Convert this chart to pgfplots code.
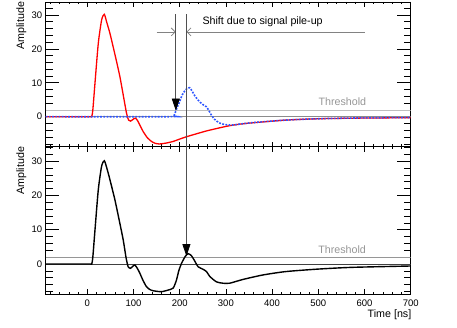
\documentclass[border=0pt]{standalone}
\usepackage{pgfplots}
\pgfplotsset{compat=1.18}
\usepackage{fontspec}
\setmainfont{Liberation Sans}
\usetikzlibrary{arrows.meta}
\definecolor{rootblue}{RGB}{45,85,255}
\definecolor{zerogray}{RGB}{140,140,140}
\definecolor{thrgray}{RGB}{190,190,190}
\definecolor{thrgray2}{RGB}{150,150,150}
\definecolor{labgray}{RGB}{150,150,150}
\definecolor{vgray}{RGB}{80,80,80}
\definecolor{hgray}{RGB}{130,130,130}

\tikzset{txt/.style={font=\fontsize{10.7}{13}\selectfont, inner sep=0pt}}
\pgfplotsset{
  rootframe/.style={
    scale only axis, width=365pt, xmin=-90, xmax=700,
    anchor=south west,
    axis line style={line width=0.8pt},
    tick style={black, line width=0.6pt},
    tick label style={font=\fontsize{9.5}{11}\selectfont},
    /pgf/number format/assume math mode=true,
  },
  % x ticks drawn by the data axis
  xpart/.style={xtick={0,100,...,700}, minor xtick={-80,-60,...,680},
    major tick length=5pt, minor tick length=2.5pt, ytick=\empty,
    xticklabel style={yshift=-2pt}},
  % y ticks (longer) drawn by an overlay axis
  ypart/.style={hide x axis, ytick={0,10,20,30}, minor ytick={-8,-6,...,34},
    major tick length=13.5pt, minor tick length=7pt},
}

\begin{document}
\begin{tikzpicture}
\useasboundingbox (0pt,0pt) rectangle (457pt,328pt);

% ---------------- top panel ----------------
\begin{axis}[rootframe, ypart, at={(45.7pt,181.3pt)}, height=144.7pt, ymin=-8.85, ymax=33.83]
\end{axis}
\begin{axis}[rootframe, xpart, xticklabels={}, at={(45.7pt,181.3pt)}, height=144.7pt, ymin=-8.85, ymax=33.83]
\addplot[thrgray, line width=0.8pt] coordinates {(-90,2) (700,2)};
\addplot[zerogray, line width=1.5pt] coordinates {(-90,0) (700,0)};
% first pulse
\addplot[red, line width=1.3pt, smooth, tension=0.4] coordinates {
(-90,0) (5,0) (9.5,0) (12,2) (16.6,9.8) (23.8,21.6) (31,28.5) (36.8,30.2)
(41.8,28) (49,24.6) (56,20.6) (63.5,16.2) (70.6,11.8) (77.8,6.4) (85,1)
(89.4,-1.0) (93.7,-1.3) (99,-0.8) (104,-0.4) (109,-1.2) (115,-2.8) (121,-4.4)
(130,-6.2) (139,-7.3) (147,-7.85) (156,-8.05) (170,-7.8) (186,-7.3) (200,-6.6)
(215,-5.9) (240,-4.9) (258,-4.2) (286,-3.3) (308,-2.65) (330,-2.2) (358,-1.8)
(430,-1.0) (502,-0.6) (600,-0.4) (700,-0.3)
};
% pile-up pulse
\addplot[rootblue, dash pattern=on 1.8pt off 1.4pt, line width=1.6pt, smooth, tension=0.4] coordinates {
(-90,0) (184,0) (187.5,0.2) (191.6,1.7) (196,3.2) (200,4.4) (205,6.3) (211,7.6)
(216,8.3) (221.8,8.55) (227,7.5) (232.6,6.2) (238,5.2) (243,4.4) (250,3.6)
(258,2.9) (264,1.6) (269,0.4) (275,-0.7) (280,-1.3) (287,-1.9) (294,-2.2)
(305,-2.45) (315,-2.45) (330,-2.2) (358,-1.75) (430,-1.0) (502,-0.6) (600,-0.35) (700,-0.25)
};
\node[txt, labgray, anchor=base east] at (axis cs:604,3.25) {Threshold};
\node[txt, anchor=base west] at (axis cs:249,27.2) {Shift due to signal pile-up};
\draw[hgray, line width=0.8pt, -{Straight Barb[length=4pt,width=8pt]}] (axis cs:150,25) -- (axis cs:191.6,25);
\draw[hgray, line width=0.8pt, -{Straight Barb[length=4pt,width=8pt]}] (axis cs:600,25) -- (axis cs:214.6,25);
\draw[vgray, line width=0.8pt, -{Triangle[length=12pt,width=8pt,color=black]}] (axis cs:191.6,30.2) -- (axis cs:191.6,1.8);
\coordinate (vtop) at (axis cs:214.6,30.2);
\end{axis}

% ---------------- bottom panel ----------------
\begin{axis}[rootframe, ypart, at={(45.7pt,33.7pt)}, height=147.6pt, ymin=-8.83, ymax=34.2]
\end{axis}
\begin{axis}[rootframe, xpart, at={(45.7pt,33.7pt)}, height=147.6pt, ymin=-8.83, ymax=34.2]
\addplot[thrgray2, line width=0.7pt] coordinates {(-90,2) (700,2)};
\addplot[black!75, line width=0.7pt] coordinates {(-90,0) (700,0)};
\addplot[black, line width=1.4pt, smooth, tension=0.4] coordinates {
(-90,0) (5,0) (9.5,0) (12,2) (16.6,9.8) (23.8,21.6) (31,28.5) (36.8,30.1)
(41.8,28.2) (49,24.6) (59.8,18.7) (70.6,11.8) (77.8,7) (84,1.8) (88.5,-0.8)
(93.7,-1.25) (98,-0.7) (103,-0.3) (108,-1.2) (113.8,-2.7) (120,-4.6) (128,-6.6)
(135,-7.4) (142.6,-7.8) (160,-8.07) (175,-7.6) (186,-7.0) (193,-4.7) (198,-2)
(204,0.2) (212,2.2) (218,3.0) (225,2.5) (232,1.0) (240,-0.8) (250,-1.5)
(258,-2.2) (265,-3.6) (279.5,-5.2) (293.8,-5.6) (308,-5.6) (337,-4.5)
(380,-3.2) (430,-2.2) (502,-1.46) (574,-0.97) (700,-0.58)
};
\node[txt, labgray, anchor=base east] at (axis cs:603.4,3.1) {Threshold};
\coordinate (vbot) at (axis cs:214.6,2.3);
\end{axis}

\draw[vgray, line width=0.8pt, -{Triangle[length=12pt,width=8pt,color=black]}] (vtop) -- (vbot);

% labels
\node[txt, rotate=90, anchor=base east] at (24.2pt,326.3pt) {Amplitude};
\node[txt, rotate=90, anchor=base east] at (24.2pt,181.3pt) {Amplitude};
\node[txt, anchor=base east] at (411.5pt,10.7pt) {Time [ns]};
\end{tikzpicture}
\end{document}
